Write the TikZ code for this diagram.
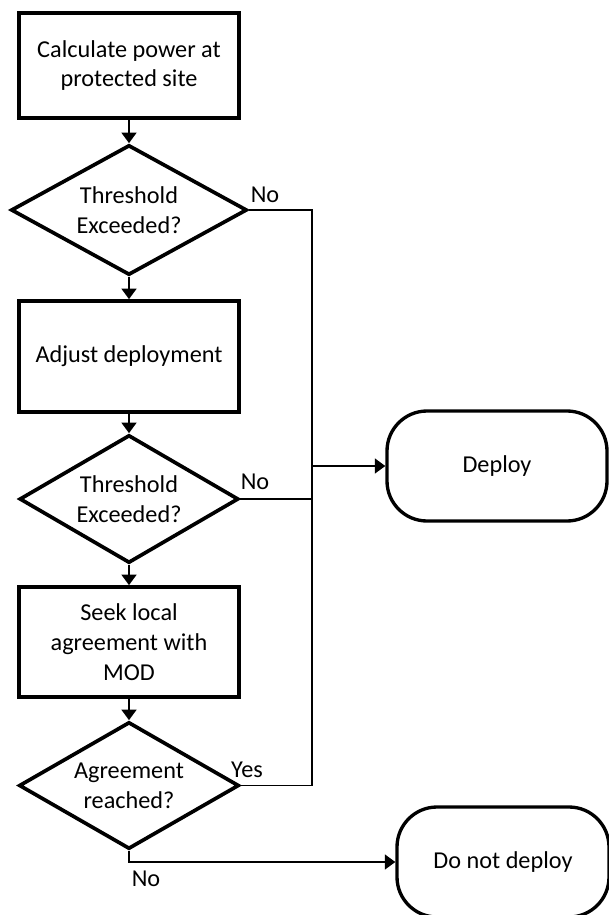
\documentclass[tikz,border=0pt]{standalone}
\usepackage{fontspec}
\setmainfont{Carlito}
\usetikzlibrary{shapes.geometric,arrows.meta}

\begin{document}
\begin{tikzpicture}[x=0.2mm, y=-0.2mm]
 \tikzstyle{every node}=[font=\fontsize{13.8pt}{17pt}\selectfont]
 \tikzstyle{quadri}=[rectangle, draw, line width=2.1pt, align=center, minimum width=44mm, inner sep=0pt]
 \tikzstyle{losange}=[diamond, draw, line width=2.1pt, align=center, inner sep=0pt, aspect=1.8]
 \tikzstyle{fin}=[rectangle, rounded corners=8mm, draw, line width=1.9pt, align=center, minimum height=22mm]
 \tikzstyle{link}=[line width=1.1pt]
 \tikzstyle{estun}=[-{Triangle[length=6pt,width=8.5pt]}, line width=1.1pt]
 \useasboundingbox (0,0) rectangle (609,915);
 %
 \node[quadri, minimum height=21mm] (Calc) at (129, 65.5) {Calculate power at\\protected site};
 \node[losange, minimum width=47.2mm, minimum height=26mm] (Thr1) at (129, 210) {Threshold\\Exceeded?};
 \node[quadri, minimum height=22.2mm] (Adj) at (129, 356.5) {Adjust deployment};
 \node[losange, minimum width=43.8mm, minimum height=25.6mm] (Thr2) at (129, 499) {Threshold\\Exceeded?};
 \node[quadri, minimum height=22mm] (Seek) at (129, 642) {Seek local\\agreement with\\MOD};
 \node[losange, minimum width=44mm, minimum height=25.4mm] (Agr) at (129, 785.5) {Agreement\\reached?};
 %
 \node[fin, minimum width=44mm] (Dep) at (497, 466) {Deploy};
 \node[fin, minimum width=42.4mm] (NoDep) at (503, 862) {Do not deploy};
 %
 \node (no1) at (265, 195) {No};
 \node (no2) at (255, 482) {No};
 \node (yes3) at (247, 770) {Yes};
 \node (no3) at (146, 879) {No};
 \coordinate (bus) at (312, 0);
 %%
 \draw[estun] (Calc)--(Thr1);
 \draw[estun] (Thr1)--(Adj);
 \draw[estun] (Adj)--(Thr2);
 \draw[estun] (Thr2)--(Seek);
 \draw[estun] (Seek)--(Agr);
 \draw[link] (Thr1.east)--(Thr1.east -| bus)--(Agr.east -| bus)--(Agr.east);
 \draw[link] (Thr2.east)--(Thr2.east -| bus);
 \draw[estun] (Dep.west -| bus)--(Dep.west);
 \draw[estun] (Agr.south) |- (NoDep.west);
\end{tikzpicture}
\end{document}
